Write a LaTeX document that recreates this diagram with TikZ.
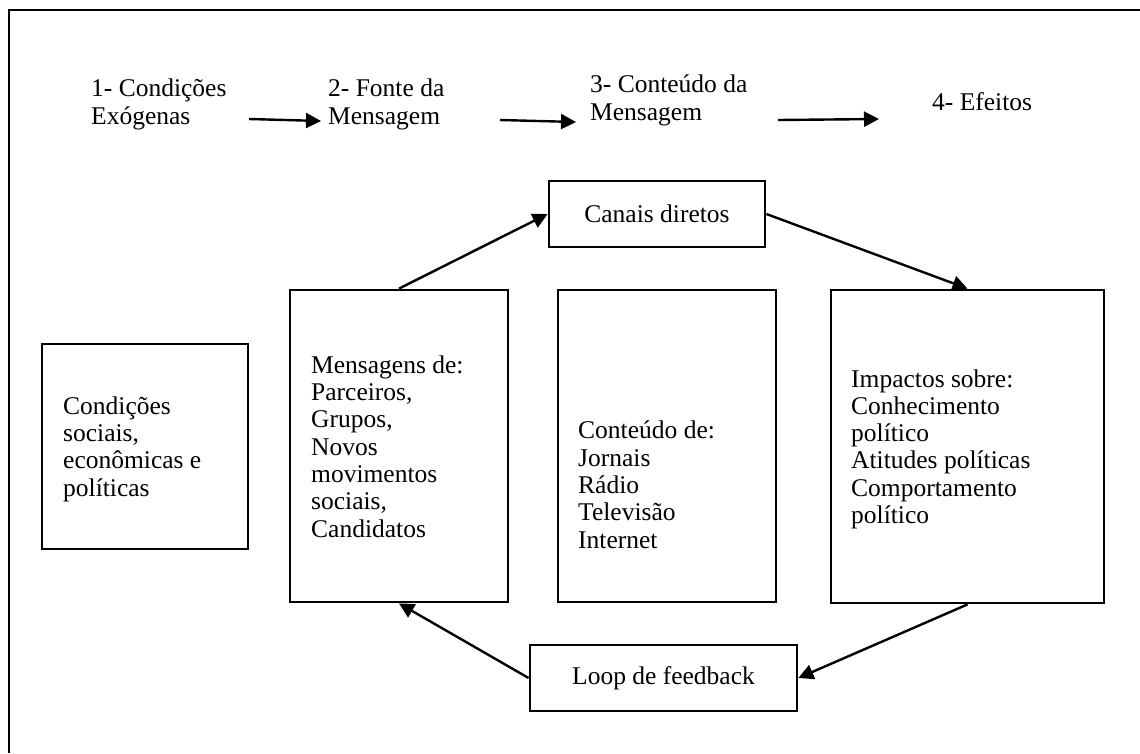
\documentclass[tikz,border=0pt]{standalone}
\usepackage{fontspec}
\setmainfont{Liberation Serif}
\usetikzlibrary{arrows.meta, positioning}
\tikzset{
  box/.style = {draw, line width=2.8pt, inner sep=0pt},
  label text/.style = {inner sep=0pt, align=left,
                       font=\fontsize{25.5}{27.3}\selectfont},
  link/.style = {line width=2.4pt, arrows={-Triangle[length=15pt, width=15pt]}},
}
\begin{document}
\begin{tikzpicture}[x=1pt, y=-1pt]
  \useasboundingbox (0,0) rectangle (1140,753);

  %% Outer frame, cut by the page on the right and at the bottom
  \draw [line width=2.8pt] (9,753) -- (9,10) -- (1140,10);

  %% Stage headings (base is the last line) and the arrows between them
  \node [label text, anchor=base west] (stage1) at (91,124) {1- Condições\\Exógenas};
  \node [label text, anchor=base west] (stage2) at (328,124) {2- Fonte da\\Mensagem};
  \node [label text, anchor=base west] (stage3) at (590,120) {3- Conteúdo da\\Mensagem};
  \node [label text, anchor=base west] (stage4) at (932,110) {4- Efeitos};
  \coordinate (arr1a) at (249,119);
  \coordinate (arr1b) at (321,121);
  \coordinate (arr2a) at (500,120);
  \coordinate (arr2b) at (576,122);
  \coordinate (arr3a) at (778,120);
  \coordinate (arr3b) at (879,119);
  \draw [link] (arr1a) -- (arr1b);
  \draw [link] (arr2a) -- (arr2b);
  \draw [link] (arr3a) -- (arr3b);

  %% The boxes
  \node [box, minimum width=206pt, minimum height=205pt] (social) at (145,446.5) {};
  \node [box, minimum width=218pt, minimum height=312pt] (source) at (399,446) {};
  \node [box, minimum width=218pt, minimum height=312pt] (content) at (667,446) {};
  \node [box, minimum width=273pt, minimum height=313pt] (effects) at (967.5,446.5) {};
  \node [box, label text, minimum width=216pt, minimum height=66pt] (direct)
        at (657,214) {Canais diretos};
  \node [box, label text, minimum width=267pt, minimum height=66pt] (feedback)
        at (663.5,678) {Loop de feedback};

  %% Box texts
  \node [label text, anchor=base west] (social text) at (63,496)
        {Condições\\sociais,\\econômicas e\\políticas};
  \node [label text, anchor=base west] (source text) at (311,537)
        {Mensagens de:\\Parceiros,\\Grupos,\\Novos\\movimentos\\sociais,\\Candidatos};
  \node [label text, anchor=base west] (content text) at (578,548)
        {Conteúdo de:\\Jornais\\Rádio\\Televisão\\Internet};
  \node [label text, anchor=base west] (effects text) at (851,523.5)
        {Impactos sobre:\\Conhecimento\\político\\Atitudes políticas\\Comportamento\\político};

  %% The loop
  \draw [link] (source.north) -- (direct.west);
  \draw [link] (direct.east) -- (effects.north);
  \draw [link] (effects.south) -- (feedback.east);
  \draw [link] (feedback.west) -- (source.south);
\end{tikzpicture}
\end{document}
